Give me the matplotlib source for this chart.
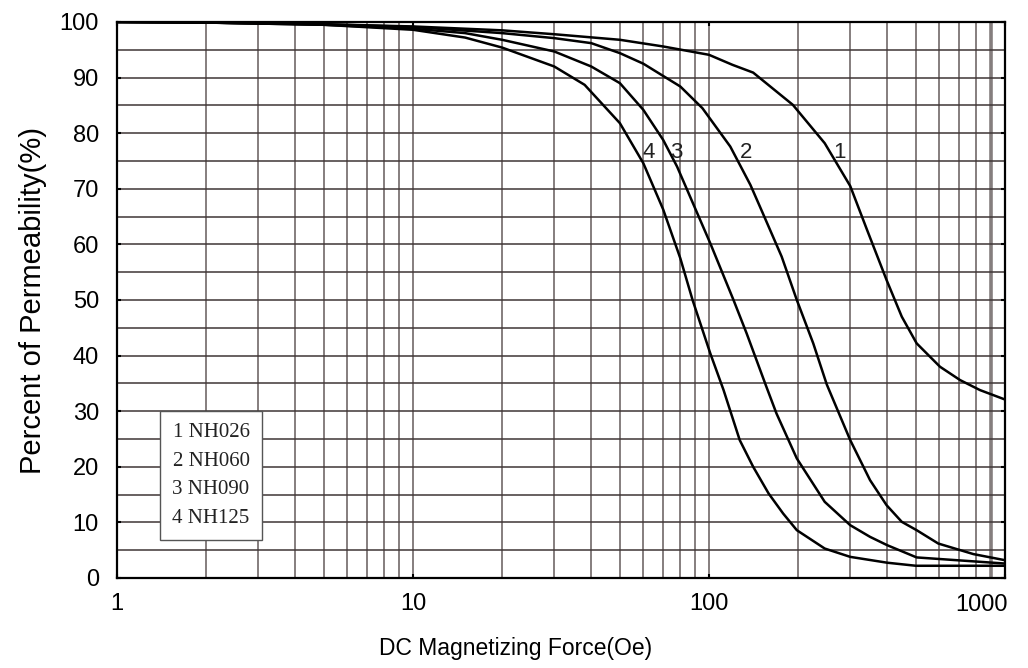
import matplotlib
matplotlib.use("Agg")
import matplotlib.pyplot as plt
from matplotlib import transforms

# ---- data ----
x1 = [1, 2, 5, 10, 20, 30, 50, 70, 100, 120, 141, 192, 246, 300, 342, 398, 448, 503, 603, 705, 823, 1000]
y1 = [100, 99.9, 99.6, 99.2, 98.5, 97.8, 96.8, 95.6, 94.1, 92.3, 90.9, 85.1, 78.2, 70.5, 62.6, 53.6, 47.0, 42.2, 38.0, 35.6, 33.8, 32.1]

x2 = [1, 2, 5, 10, 20, 30, 40, 50, 60, 70, 80, 95, 118, 138, 152, 176, 198, 225, 250, 300, 350, 398, 448, 503, 595, 782, 1000]
y2 = [100, 99.9, 99.6, 99.1, 98.0, 97.1, 96.2, 94.4, 92.5, 90.3, 88.4, 84.5, 77.6, 70.7, 65.6, 57.8, 50.0, 42.2, 34.8, 24.8, 17.6, 13.1, 10.1, 8.6, 6.2, 4.3, 3.2]

x3 = [1, 2, 5, 10, 15, 20, 30, 40, 50, 60, 70, 78, 101, 121, 134, 156, 169, 198, 246, 300, 350, 400, 503, 1000]
y3 = [100, 99.9, 99.5, 98.8, 98.0, 96.8, 94.7, 92.0, 89.0, 84.2, 78.8, 74.0, 60.2, 50.0, 44.0, 34.5, 29.6, 21.5, 13.7, 9.5, 7.4, 5.9, 3.7, 2.6]

x4 = [1, 2, 5, 10, 15, 20, 30, 38, 50, 60, 70, 80, 88, 101, 112, 127, 141, 159, 178, 198, 246, 300, 400, 500, 1000]
y4 = [100, 99.9, 99.5, 98.6, 97.2, 95.4, 92.0, 88.7, 81.8, 74.6, 66.3, 57.5, 50.0, 40.4, 33.8, 24.8, 20.0, 15.2, 11.6, 8.6, 5.3, 3.8, 2.75, 2.2, 2.2]

curve_labels = ["1", "2", "3", "4"]
label_x = [275, 133, 77.8, 62.5]
label_y = [76.6, 76.6, 76.6, 76.6]

legend_lines = ["1 NH026", "2 NH060", "3 NH090", "4 NH125"]

x_ticks = [1, 10, 100, 1000]
x_ticklabels = ["1", "10", "100", "1000"]
y_ticks = list(range(0, 101, 10))

sans = "Liberation Sans"
serif = "Liberation Serif"

fig = plt.figure(figsize=(10.28, 6.68), dpi=100)
ax = fig.add_axes([117 / 1028, 1 - 578 / 668, (1005 - 117) / 1028, (578 - 22) / 668])
ax.set_xscale("log")

# grid
vgrid = [v * 10 ** d for d in range(3) for v in range(1, 10)] + [1000]
for v in vgrid:
    ax.axvline(v, color="#857e7e", lw=1.4 if v != 900 else 2.6, zorder=1)
for h in range(0, 101, 5):
    ax.axhline(h, color="#3f3636", lw=1.1, zorder=1)

for xs, ys in [(x1, y1), (x2, y2), (x3, y3), (x4, y4)]:
    ax.plot(xs, ys, color="black", lw=1.8, zorder=3)

for t, lx, ly in zip(curve_labels, label_x, label_y):
    ax.text(lx, ly, t, fontsize=16, family=sans, color="#222222",
            ha="center", va="center", zorder=4)

# legend box
ax.text(0.1059, 0.184, "\n".join(legend_lines), transform=ax.transAxes,
        family=serif, fontsize=15, color="#222222", ha="center", va="center",
        linespacing=1.68, zorder=5,
        bbox=dict(boxstyle="square,pad=0.58", facecolor="white", edgecolor="#555555", lw=1.0))

ax.set_xlim(1, 1000)
ax.set_ylim(0, 100)

# x tick labels: the last one is right-aligned at the axis end
ax.set_xticks(x_ticks)
ax.set_xticklabels(x_ticklabels[:-1] + [""], family=sans, fontsize=17)
ax.xaxis.set_minor_locator(matplotlib.ticker.NullLocator())
offset = transforms.ScaledTranslation(2 / 72, -11.5 / 72, fig.dpi_scale_trans)
ax.text(x_ticks[-1], 0, x_ticklabels[-1], family=sans, fontsize=17,
        ha="right", va="top", transform=ax.get_xaxis_transform() + offset, clip_on=False)

ax.set_yticks(y_ticks)
ax.set_yticklabels([str(v) for v in y_ticks], family=sans, fontsize=17)
ax.tick_params(axis="both", which="both", direction="in", length=3, width=1.5,
               color="black", top=True, right=True)
ax.tick_params(axis="y", pad=13)
ax.tick_params(axis="x", pad=11)

for s in ax.spines.values():
    s.set_linewidth(1.6)
    s.set_color("black")
    s.set_zorder(6)

ax.set_xlabel("DC Magnetizing Force(Oe)", family=sans, fontsize=16.5)
ax.xaxis.set_label_coords(0.449, -0.126)
ax.xaxis.label.set_va("center")
ax.set_ylabel("Percent of Permeability(%)", family=sans, fontsize=21, labelpad=9)

fig.savefig("out.png", dpi=100)
